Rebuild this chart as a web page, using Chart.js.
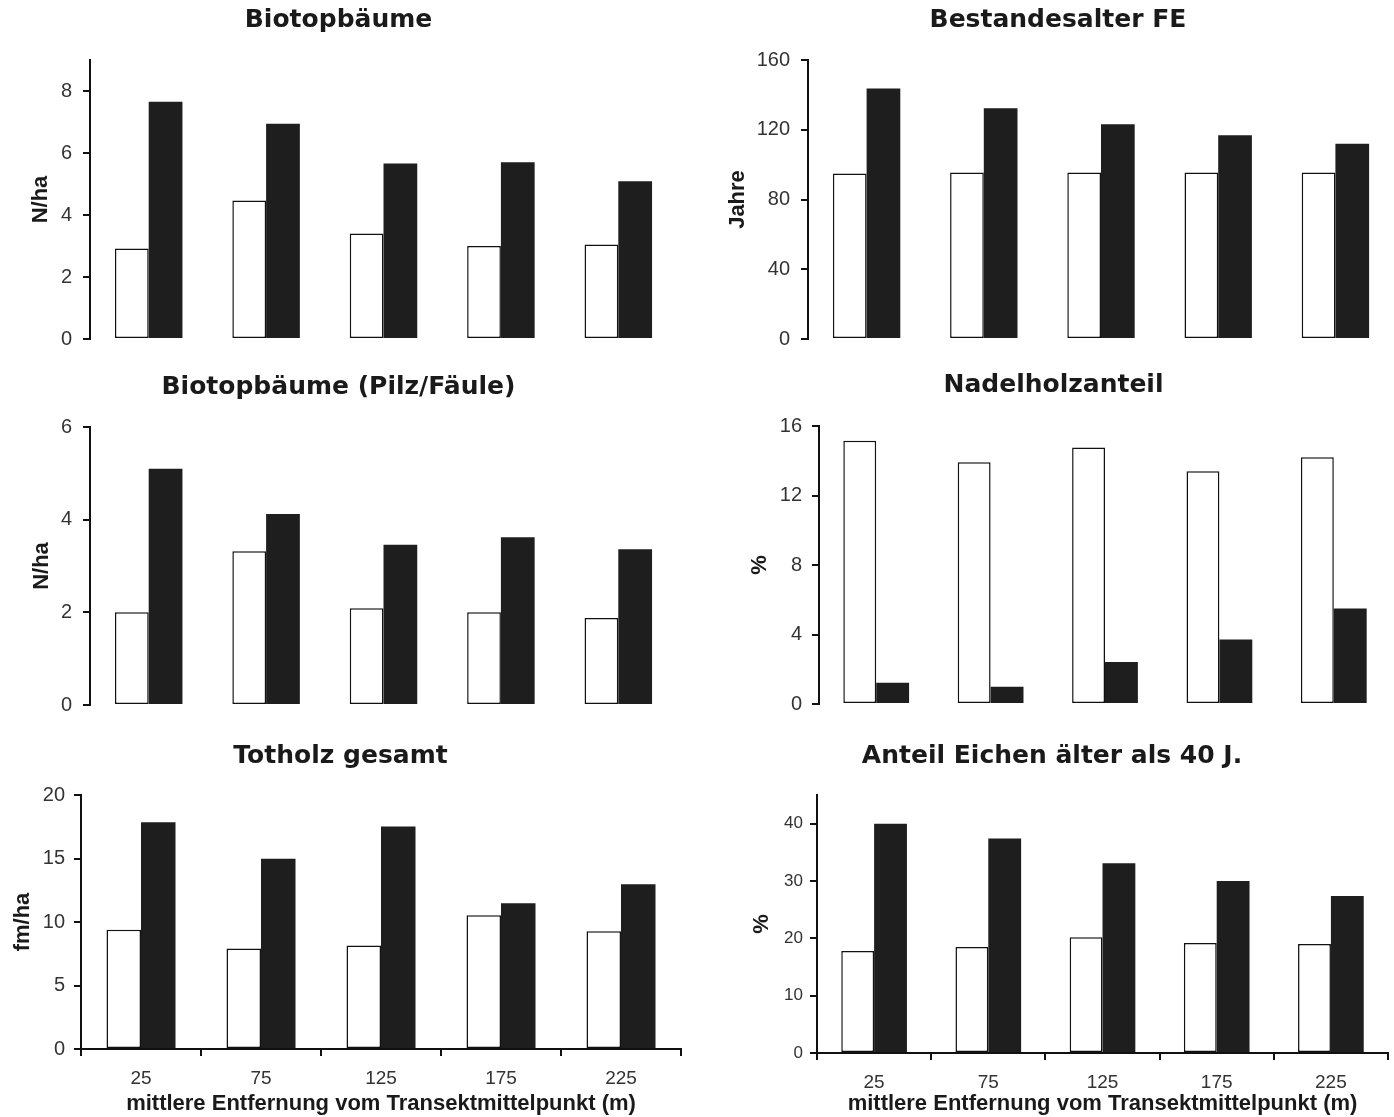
<!DOCTYPE html>
<html lang="de">
<head>
    <meta charset="UTF-8">
    <title>Biotopbäume und Bestandesmerkmale</title>
    <script src="https://cdn.jsdelivr.net/npm/chart.js"></script>
    <style>
        html, body { margin: 0; padding: 0; background: #fff; overflow: hidden; }
        body { width: 1394px; height: 1117px; position: relative; }
        .panel { position: absolute; }
    </style>
</head>
<body>
    <div class="panel" style="left:0;top:0;width:684px;height:362px"><canvas id="c1"></canvas></div>
    <div class="panel" style="left:722px;top:0;width:672px;height:362px"><canvas id="c2"></canvas></div>
    <div class="panel" style="left:0;top:360px;width:684px;height:368px"><canvas id="c3"></canvas></div>
    <div class="panel" style="left:716px;top:360px;width:678px;height:366px"><canvas id="c4"></canvas></div>
    <div class="panel" style="left:0;top:720px;width:684px;height:397px"><canvas id="c5"></canvas></div>
    <div class="panel" style="left:716px;top:720px;width:678px;height:397px"><canvas id="c6"></canvas></div>

    <script>
        // mittlere Entfernung vom Transektmittelpunkt (m)
        const categories = ['25', '75', '125', '175', '225'];

        // weiße Säulen / schwarze Säulen je Panel
        const biotopWhite = [2.92, 4.47, 3.40, 3.00, 3.05];
        const biotopBlack = [7.65, 6.94, 5.66, 5.70, 5.09];

        const alterWhite = [94.9, 95.5, 95.5, 95.5, 95.5];
        const alterBlack = [143.6, 132.3, 123.2, 116.9, 111.9];

        const pilzWhite = [2.00, 3.32, 2.09, 2.00, 1.88];
        const pilzBlack = [5.10, 4.12, 3.46, 3.62, 3.36];

        const nadelWhite = [15.15, 13.91, 14.76, 13.39, 14.20];
        const nadelBlack = [1.22, 1.00, 2.42, 3.71, 5.49];

        const totholzWhite = [9.38, 7.92, 8.15, 10.54, 9.27];
        const totholzBlack = [17.85, 14.99, 17.51, 11.48, 12.97];

        const eichenWhite = [17.8, 18.5, 20.2, 19.2, 19.0];
        const eichenBlack = [40.0, 37.4, 33.1, 30.0, 27.4];

        const xTitle = 'mittlere Entfernung vom Transektmittelpunkt (m)';

        function makePanel(id, p) {
            new Chart(document.getElementById(id), {
                type: 'bar',
                data: {
                    labels: categories,
                    datasets: [{
                        data: p.white,
                        backgroundColor: '#ffffff',
                        borderColor: '#111',
                        borderWidth: 1.5,
                        borderSkipped: false,
                        categoryPercentage: 0.575,
                        barPercentage: 1.0
                    }, {
                        data: p.black,
                        backgroundColor: '#1e1e1e',
                        borderWidth: 0,
                        categoryPercentage: 0.575,
                        barPercentage: 1.0
                    }]
                },
                options: {
                    responsive: true,
                    maintainAspectRatio: false,
                    animation: false,
                    layout: { padding: { left: 0, right: p.padRight, top: 0, bottom: p.padBottom } },
                    plugins: {
                        legend: { display: false },
                        tooltip: { enabled: false },
                        title: {
                            display: true,
                            text: p.title,
                            color: '#1a1a1a',
                            font: { family: 'DejaVu Sans', size: 25, weight: 'bold' },
                            padding: { top: p.titleTop, bottom: p.titleBottom }
                        }
                    },
                    scales: {
                        x: {
                            display: p.showX,
                            afterFit: (s) => { if (p.xHeight) s.height = p.xHeight; },
                            border: { display: true, color: '#111', width: 2 },
                            grid: { drawOnChartArea: false, drawTicks: true, tickLength: 7, color: '#111', lineWidth: 2 },
                            ticks: { color: '#333', padding: 11, font: { family: 'Liberation Sans', size: 19 } },
                            title: {
                                display: true,
                                text: xTitle,
                                color: '#1a1a1a',
                                font: { family: 'Liberation Sans', size: 22, weight: 'bold' },
                                padding: { top: 0, bottom: 0 }
                            }
                        },
                        y: {
                            min: 0,
                            max: p.max,
                            afterFit: (s) => { s.width = p.yWidth; },
                            afterBuildTicks: (s) => {
                                s.ticks = s.ticks.filter(t => t.value % p.step === 0);
                            },
                            border: { display: true, color: '#111', width: 2 },
                            grid: { drawOnChartArea: false, drawTicks: true, tickLength: 7, color: '#111', lineWidth: 2 },
                            ticks: {
                                stepSize: p.step,
                                color: '#333',
                                padding: p.tickPad,
                                font: { family: 'Liberation Sans', size: p.tickSize || 20 }
                            },
                            title: {
                                display: true,
                                text: p.yTitle,
                                color: '#1a1a1a',
                                font: { family: 'Liberation Sans', size: 22, weight: 'bold' },
                                padding: { top: p.yTitlePad, bottom: 0 }
                            }
                        }
                    }
                }
            });
        }

        makePanel('c1', {
            title: 'Biotopbäume', yTitle: 'N/ha', white: biotopWhite, black: biotopBlack,
            max: 9, step: 2, yWidth: 90, padRight: 7, padBottom: 15, titleTop: 5, titleBottom: 25,
            yTitlePad: 28, tickPad: 11, showX: false
        });
        makePanel('c2', {
            title: 'Bestandesalter FE', yTitle: 'Jahre', white: alterWhite, black: alterBlack,
            max: 160, step: 40, yWidth: 86, padRight: 0, padBottom: 15, titleTop: 5, titleBottom: 25,
            yTitlePad: 3, tickPad: 11, showX: false
        });
        makePanel('c3', {
            title: 'Biotopbäume (Pilz/Fäule)', yTitle: 'N/ha', white: pilzWhite, black: pilzBlack,
            max: 6, step: 2, yWidth: 90, padRight: 7, padBottom: 15, titleTop: 12, titleBottom: 25,
            yTitlePad: 29, tickPad: 11, showX: false
        });
        makePanel('c4', {
            title: 'Nadelholzanteil', yTitle: '%', white: nadelWhite, black: nadelBlack,
            max: 16, step: 4, yWidth: 103, padRight: 3, padBottom: 15, titleTop: 10, titleBottom: 26,
            yTitlePad: 31, tickPad: 10, showX: false
        });
        makePanel('c5', {
            title: 'Totholz gesamt', yTitle: 'fm/ha', white: totholzWhite, black: totholzBlack,
            max: 20, step: 5, yWidth: 81, padRight: 3, padBottom: 0, titleTop: 21, titleBottom: 24,
            yTitlePad: 10, tickPad: 9, showX: true, xHeight: 68
        });
        makePanel('c6', {
            title: 'Anteil Eichen älter als 40 J.', yTitle: '%', white: eichenWhite, black: eichenBlack,
            max: 45, step: 10, yWidth: 101, padRight: 6, padBottom: 0, titleTop: 21, titleBottom: 24,
            yTitlePad: 33, tickPad: 7, tickSize: 17, showX: true, xHeight: 64
        });
    </script>
</body>
</html>
